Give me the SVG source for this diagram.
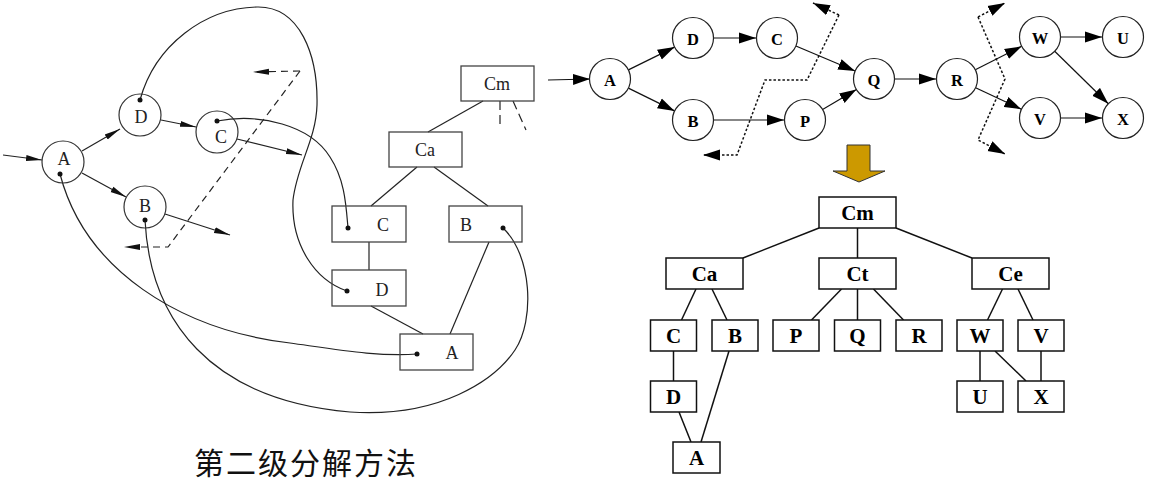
<svg xmlns="http://www.w3.org/2000/svg" width="1152" height="482" viewBox="0 0 1152 482">
<style>
.lc{fill:none;stroke:#333;stroke-width:1.2}
.lb{fill:none;stroke:#444;stroke-width:1.3}
.lt{font-family:"Liberation Serif",serif;font-size:18px;fill:#222;text-anchor:middle;dominant-baseline:central}
.ll{fill:none;stroke:#222;stroke-width:1.2}
.dot{fill:#111}
.rc{fill:#fff;stroke:#222;stroke-width:1.2}
.rt{font-family:"Liberation Serif",serif;font-weight:bold;font-size:16.5px;fill:#000;text-anchor:middle;dominant-baseline:central}
.rl{fill:none;stroke:#111;stroke-width:1.2}
.dl{fill:none;stroke:#111;stroke-width:1.5;stroke-dasharray:2.5,2}
.tb{fill:#fff;stroke:#111;stroke-width:1.5}
.tt{font-family:"Liberation Serif",serif;font-weight:bold;font-size:21px;fill:#000;text-anchor:middle;dominant-baseline:central}
.tl{fill:none;stroke:#111;stroke-width:1.5}
</style>
<defs>
<marker id="la" markerUnits="userSpaceOnUse" markerWidth="17" markerHeight="8" refX="16" refY="4" orient="auto"><path d="M0,1 L16,4 L0,7 z" fill="#111"/></marker>
<marker id="ra" markerUnits="userSpaceOnUse" markerWidth="18" markerHeight="12" refX="17" refY="6" orient="auto"><path d="M0,0.5 L17,6 L0,11.5 z" fill="#000"/></marker>
</defs>

<!-- LEFT: second level decomposition -->
<g id="left-connectors">
<path class="ll" d="M3,155 L42,160" marker-end="url(#la)"/>
<path class="ll" d="M82,151 L120,129" marker-end="url(#la)"/>
<path class="ll" d="M82,173 L126,197" marker-end="url(#la)"/>
<path class="ll" d="M161,120 L196,127" marker-end="url(#la)"/>
<path class="ll" d="M237,139 L302,155" marker-end="url(#la)"/>
<path class="ll" d="M165,214 L230,235" marker-end="url(#la)"/>
<path class="ll" d="M300,71 L168,247 L124,247" stroke-dasharray="7,5" marker-end="url(#la)"/>
<path class="ll" d="M300,71 L253,72" stroke-dasharray="7,5" marker-end="url(#la)"/>
<path class="ll" d="M140,100 C155,45 205,8 257,7 C300,6 318,55 317,105 C316,140 297,165 293,200 C291,245 315,280 347,291"/>
<path class="ll" d="M217,121 C260,113 310,125 330,157 C345,180 346,205 348,228"/>
<path class="ll" d="M60,174 C85,270 180,330 290,343 C340,350 380,357 417,354"/>
<path class="ll" d="M145,220 C150,320 210,400 350,412 C440,418 495,380 515,350 C535,320 532,255 503,228"/>
<line class="ll" x1="483" y1="101" x2="428" y2="132"/>
<line class="ll" x1="500" y1="101" x2="500" y2="128" stroke-dasharray="9,5"/>
<line class="ll" x1="513" y1="101" x2="526" y2="130" stroke-dasharray="9,5"/>
<line class="ll" x1="417" y1="167" x2="371" y2="206"/>
<line class="ll" x1="434" y1="167" x2="488" y2="206"/>
<line class="ll" x1="369" y1="242" x2="369" y2="270"/>
<line class="ll" x1="371" y1="306" x2="423" y2="334"/>
<line class="ll" x1="489" y1="242" x2="450" y2="334"/>
</g>
<g id="l-A"><circle class="lc" cx="63" cy="162" r="21"/><text class="lt" x="64" y="159">A</text><circle class="dot" cx="60" cy="174" r="2.5"/></g>
<g id="l-D"><circle class="lc" cx="140" cy="115" r="21"/><text class="lt" x="141" y="117">D</text><circle class="dot" cx="140" cy="100" r="2.5"/></g>
<g id="l-C"><circle class="lc" cx="217" cy="132" r="21"/><text class="lt" x="221" y="137">C</text><circle class="dot" cx="217" cy="121" r="2.5"/></g>
<g id="l-B"><circle class="lc" cx="145" cy="207" r="21"/><text class="lt" x="145" y="206">B</text><circle class="dot" cx="145" cy="220" r="2.5"/></g>
<g id="l-Cm"><rect class="lb" x="461" y="66" width="73" height="35"/><text class="lt" x="497" y="84">Cm</text></g>
<g id="l-Ca"><rect class="lb" x="389" y="132" width="73" height="35"/><text class="lt" x="425" y="150">Ca</text></g>
<g id="l-Cbox"><rect class="lb" x="332" y="206" width="74" height="36"/><text class="lt" x="383" y="225">C</text><circle class="dot" cx="348" cy="228" r="2.5"/></g>
<g id="l-Bbox"><rect class="lb" x="449" y="206" width="73" height="36"/><text class="lt" x="466" y="225">B</text><circle class="dot" cx="503" cy="228" r="2.5"/></g>
<g id="l-Dbox"><rect class="lb" x="332" y="270" width="74" height="36"/><text class="lt" x="382" y="290">D</text><circle class="dot" cx="347" cy="291" r="2.5"/></g>
<g id="l-Abox"><rect class="lb" x="400" y="334" width="73" height="36"/><text class="lt" x="452" y="353">A</text><circle class="dot" cx="417" cy="354" r="2.5"/></g>
<text x="306" y="461" font-family="'Noto Sans CJK SC',sans-serif" font-size="30" fill="#111" text-anchor="middle" dominant-baseline="central" letter-spacing="2">第二级分解方法</text>

<!-- RIGHT TOP: graph -->
<g id="right-connectors">
<path class="rl" d="M548,80 L590,79" marker-end="url(#ra)"/>
<path class="rl" d="M628.4,69.9 L674.6,47.1" marker-end="url(#ra)"/>
<path class="rl" d="M628.4,88.1 L674.6,110.9" marker-end="url(#ra)"/>
<path class="rl" d="M714,38 L756,38" marker-end="url(#ra)"/>
<path class="rl" d="M714,120 L784,120" marker-end="url(#ra)"/>
<path class="rl" d="M795.9,46 L855.1,71" marker-end="url(#ra)"/>
<path class="rl" d="M822.6,109.5 L856.4,89.5" marker-end="url(#ra)"/>
<path class="rl" d="M895,79 L936,79" marker-end="url(#ra)"/>
<path class="rl" d="M975.3,69.7 L1021.7,46.3" marker-end="url(#ra)"/>
<path class="rl" d="M975.6,87.7 L1021.4,109.3" marker-end="url(#ra)"/>
<path class="rl" d="M1061,37 L1102,37" marker-end="url(#ra)"/>
<path class="rl" d="M1061,118 L1102,118" marker-end="url(#ra)"/>
<path class="rl" d="M1054.7,51.3 L1108.3,103.7" marker-end="url(#ra)"/>
<path class="dl" d="M839,15 L807,80 L765,80 L737,155 L703,155" marker-end="url(#ra)"/>
<path class="dl" d="M839,15 L813,3" marker-end="url(#ra)"/>
<path class="dl" d="M978,17 L1005,79 L978,140 L1005,154" marker-end="url(#ra)"/>
<path class="dl" d="M978,17 L1005,3" marker-end="url(#ra)"/>
</g>
<g id="r-A"><circle class="rc" cx="610" cy="79" r="20.5"/><text class="rt" x="610" y="80">A</text></g>
<g id="r-D"><circle class="rc" cx="693" cy="38" r="20.5"/><text class="rt" x="693" y="39">D</text></g>
<g id="r-C"><circle class="rc" cx="777" cy="38" r="20.5"/><text class="rt" x="777" y="39">C</text></g>
<g id="r-B"><circle class="rc" cx="693" cy="120" r="20.5"/><text class="rt" x="693" y="121">B</text></g>
<g id="r-P"><circle class="rc" cx="805" cy="120" r="20.5"/><text class="rt" x="805" y="121">P</text></g>
<g id="r-Q"><circle class="rc" cx="874" cy="79" r="20.5"/><text class="rt" x="874" y="80">Q</text></g>
<g id="r-R"><circle class="rc" cx="957" cy="79" r="20.5"/><text class="rt" x="957" y="80">R</text></g>
<g id="r-W"><circle class="rc" cx="1040" cy="37" r="20.5"/><text class="rt" x="1040" y="38">W</text></g>
<g id="r-U"><circle class="rc" cx="1123" cy="37" r="20.5"/><text class="rt" x="1123" y="38">U</text></g>
<g id="r-V"><circle class="rc" cx="1040" cy="118" r="20.5"/><text class="rt" x="1040" y="119">V</text></g>
<g id="r-X"><circle class="rc" cx="1123" cy="118" r="20.5"/><text class="rt" x="1123" y="119">X</text></g>

<g id="gold-arrow"><path d="M847,145 L870,145 L870,171 L885,171 L859,182 L833,171 L847,171 z" fill="#CC9900" stroke="#333" stroke-width="1"/></g>

<!-- RIGHT BOTTOM: tree -->
<g id="tree-connectors">
<line class="tl" x1="819" y1="228" x2="743" y2="258"/>
<line class="tl" x1="857.5" y1="228" x2="857.5" y2="258"/>
<line class="tl" x1="896" y1="228" x2="972" y2="258"/>
<line class="tl" x1="696" y1="289" x2="681.5" y2="320"/>
<line class="tl" x1="712" y1="289" x2="727" y2="320"/>
<line class="tl" x1="841.5" y1="289" x2="811.5" y2="320"/>
<line class="tl" x1="857.5" y1="289" x2="857.5" y2="320"/>
<line class="tl" x1="873.5" y1="289" x2="903.5" y2="320"/>
<line class="tl" x1="1002.5" y1="289" x2="987.5" y2="320"/>
<line class="tl" x1="1018" y1="289" x2="1033" y2="320"/>
<line class="tl" x1="673.5" y1="351" x2="673.5" y2="381"/>
<line class="tl" x1="679" y1="412" x2="691" y2="442"/>
<line class="tl" x1="729" y1="351" x2="701" y2="442"/>
<line class="tl" x1="980" y1="351" x2="980" y2="381"/>
<line class="tl" x1="995" y1="351" x2="1026" y2="381"/>
<line class="tl" x1="1041" y1="351" x2="1041" y2="381"/>
</g>
<g id="t-Cm"><rect class="tb" x="819" y="197" width="77" height="31"/><text class="tt" x="857.5" y="213">Cm</text></g>
<g id="t-Ca"><rect class="tb" x="666" y="258" width="77" height="31"/><text class="tt" x="704.5" y="274">Ca</text></g>
<g id="t-Ct"><rect class="tb" x="819" y="258" width="77" height="31"/><text class="tt" x="857.5" y="274">Ct</text></g>
<g id="t-Ce"><rect class="tb" x="972" y="258" width="77" height="31"/><text class="tt" x="1010.5" y="274">Ce</text></g>
<g id="t-C"><rect class="tb" x="650.5" y="320" width="46" height="31"/><text class="tt" x="673.5" y="336">C</text></g>
<g id="t-B"><rect class="tb" x="712" y="320" width="46" height="31"/><text class="tt" x="735" y="336">B</text></g>
<g id="t-P"><rect class="tb" x="773" y="320" width="46" height="31"/><text class="tt" x="796" y="336">P</text></g>
<g id="t-Q"><rect class="tb" x="834.5" y="320" width="46" height="31"/><text class="tt" x="857.5" y="336">Q</text></g>
<g id="t-R"><rect class="tb" x="896" y="320" width="46" height="31"/><text class="tt" x="919" y="336">R</text></g>
<g id="t-W"><rect class="tb" x="957" y="320" width="46" height="31"/><text class="tt" x="980" y="336">W</text></g>
<g id="t-V"><rect class="tb" x="1018" y="320" width="46" height="31"/><text class="tt" x="1041" y="336">V</text></g>
<g id="t-D"><rect class="tb" x="650.5" y="381" width="46" height="31"/><text class="tt" x="673.5" y="397">D</text></g>
<g id="t-U"><rect class="tb" x="957" y="381" width="46" height="31"/><text class="tt" x="980" y="397">U</text></g>
<g id="t-X"><rect class="tb" x="1018" y="381" width="46" height="31"/><text class="tt" x="1041" y="397">X</text></g>
<g id="t-A"><rect class="tb" x="673" y="442" width="47" height="31"/><text class="tt" x="696.5" y="458">A</text></g>
</svg>
